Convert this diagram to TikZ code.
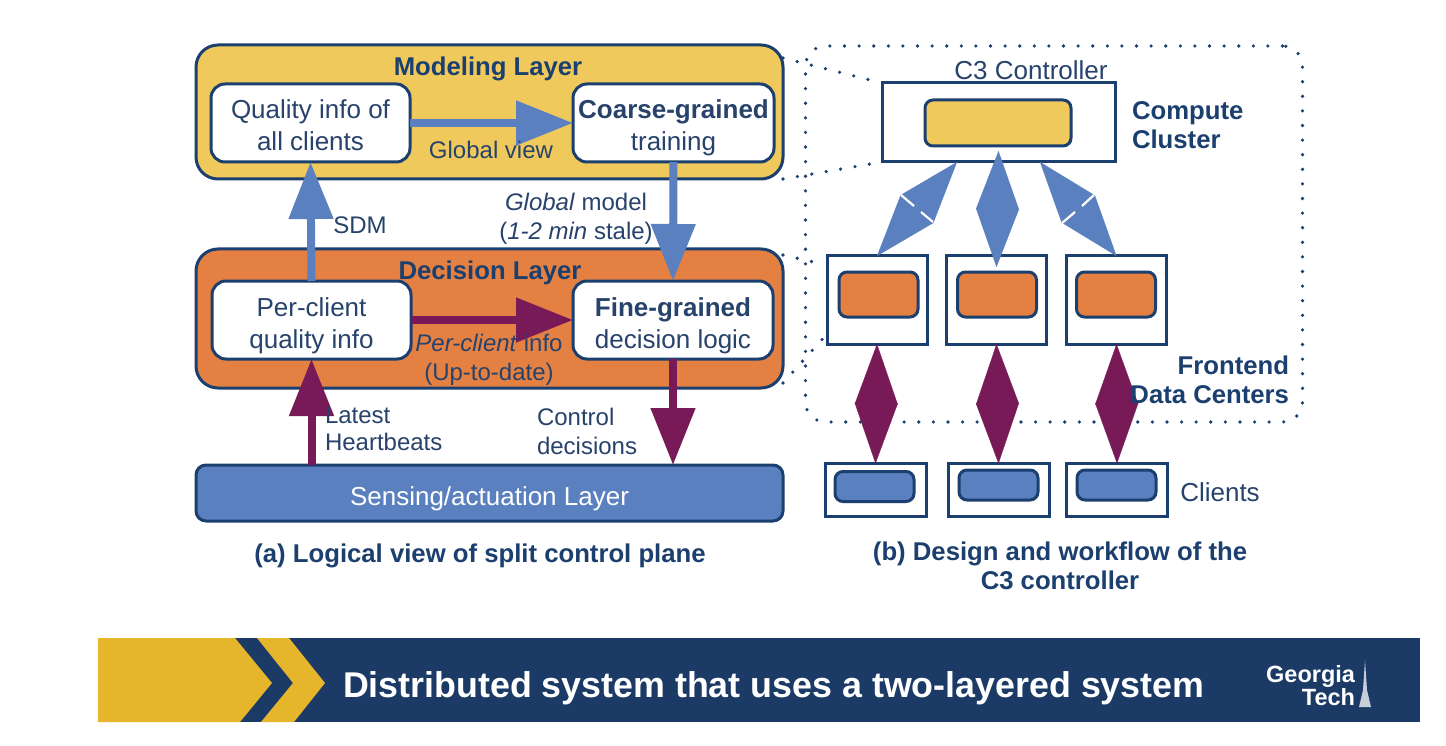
\documentclass[tikz,border=0pt]{standalone}
\usepackage{fontspec}
\setmainfont{Liberation Sans}
\usepackage{tikz}
\usetikzlibrary{arrows.meta}
\definecolor{navy}{HTML}{1B3F6E}
\definecolor{ink}{HTML}{27426B}
\definecolor{modelfill}{HTML}{F0C95C}
\definecolor{decidefill}{HTML}{E58043}
\definecolor{sensefill}{HTML}{5A80BF}
\definecolor{plum}{HTML}{781A58}
\definecolor{bannerblue}{HTML}{1B3A66}
\definecolor{bannergold}{HTML}{E5B62C}
\newcommand{\twolines}[2]{\rule{0pt}{30pt}#1\\#2\rule[-6pt]{0pt}{6pt}}

\begin{document}
\begin{tikzpicture}[x=1pt,y=-1pt,inner sep=0pt,outer sep=0pt,
        layer/.style={draw=navy,line width=3pt,rounded corners=22pt,minimum width=587pt},
        inbox/.style={draw=navy,line width=3pt,rounded corners=14pt,fill=white,minimum height=78pt,text=ink,align=center,font=\fontsize{26}{32}\selectfont},
        rack/.style={draw=navy,line width=3pt,fill=white},
        chip/.style={draw=navy,line width=3pt,rounded corners=8pt},
        lab/.style={text=ink,align=center,font=\fontsize{24}{29}\selectfont},
        head/.style={text=navy,align=center,font=\fontsize{25.7}{29.5}\selectfont\bfseries},
        flow/.style={line width=8pt,-{Triangle[length=57pt,width=43pt]}},
        both/.style={line width=0.2pt,{Triangle[length=#1,width=43pt]}-{Triangle[length=#1,width=43pt]}},
        dots/.style={draw=navy,line width=3.6pt,line cap=round,dash pattern=on 0pt off 14.6pt}]
        \useasboundingbox (0,0) rectangle (1446,746);
        \fill[white] (0,0) rectangle (1446,746);

        % left side layers
        \node[layer,fill=modelfill,minimum height=134pt] (modeling) at (489.5,112) {};
        \node[layer,fill=decidefill,minimum height=139pt] (decision) at (489.5,318.5) {};
        \node[layer,fill=sensefill,minimum height=56pt,rounded corners=10pt,text=white,font=\fontsize{26}{30}\selectfont] (sensing) at (489.5,493) {\rule{0pt}{30pt}Sensing/actuation Layer\rule[-6pt]{0pt}{6pt}};
        \node[inbox,minimum width=199pt] (quality) at (310.5,123) {\twolines{Quality info of}{all clients}};
        \node[inbox,minimum width=201pt] (coarse) at (673.5,123) {\twolines{\textbf{Coarse-grained}}{training}};
        \node[inbox,minimum width=199pt] (perclient) at (311.5,320) {\twolines{Per-client}{quality info}};
        \node[inbox,minimum width=200pt] (fine) at (673,320) {\twolines{\textbf{Fine-grained}}{decision logic}};
        \coordinate (hbfoot) at (311.5,465);
        \coordinate (ctlfoot) at (673,465);

        % right side boxes
        \node[dots,rounded corners=20pt,minimum width=497pt,minimum height=376pt] (cage) at (1054,234) {};
        \node[rack,minimum width=233pt,minimum height=79pt] (ctrl) at (998.5,122.5) {};
        \node[chip,fill=modelfill,minimum width=146pt,minimum height=46pt] (ctrlchip) at (998,123) {};
        \foreach \n/\x/\cx in {1/877/878.5,2/996.5/997,3/1116.5/1116}{
          \node[rack,minimum width=100pt,minimum height=88pt] (fe\n) at (\x,300) {};
          \node[chip,fill=decidefill,minimum width=79pt,minimum height=45pt] (fechip\n) at (\cx,294.5) {};
        }
        \foreach \n/\x/\cx/\cy in {1/875.5/874.5/486.5,2/998.5/998.5/485,3/1117/1116.5/485}{
          \node[rack,minimum width=101pt,minimum height=53pt] (cl\n) at (\x,490) {};
          \node[chip,fill=sensefill,minimum width=79pt,minimum height=30pt] (clchip\n) at (\cx,\cy) {};
        }

        % dotted zoom lines
        \draw[dots,shorten >=9pt] ([yshift=-13pt]modeling.north east) -- (ctrl.north west);
        \draw[dots,shorten >=9pt] (modeling.south east) -- (ctrl.south west);
        \draw[dots,shorten >=7pt] ([yshift=-6pt]decision.north east) -- ([yshift=-9pt]fe1.north west);
        \draw[dots,shorten >=6pt] ([yshift=5pt]decision.south east) -- ([yshift=10pt]fe1.south west);

        % arrows
        \draw[flow,sensefill] (quality) -- (coarse);
        \draw[flow,plum] (perclient) -- (fine);
        \draw[flow,sensefill] (perclient.north) -- (quality.south);
        \draw[flow,sensefill] (coarse.south) -- (fine.north);
        \draw[flow,plum] (hbfoot) -- (perclient.south);
        \draw[flow,plum] (fine.south) -- (ctlfoot);
        \draw[both=61.8pt,sensefill] ([xshift=-41.5pt]ctrl.south) -- (fe1.north);
        \draw[both=58.3pt,sensefill] ([yshift=11pt]ctrl.south) -- ([yshift=-11pt]fe2.north);
        \draw[both=60.7pt,sensefill] ([xshift=41.5pt]ctrl.south) -- (fe3.north);
        \draw[both=60.2pt,plum] (fe1.south) -- (cl1.north);
        \draw[both=60.2pt,plum] (fe2.south) -- (cl2.north);
        \draw[both=60.2pt,plum] (fe3.south) -- (cl3.north);
        \draw[white,line width=2.2pt] (901,195) -- (914,206) (921,212) -- (933,222);
        \draw[white,line width=2.2pt] (1094,195) -- (1082,206) (1075,212) -- (1062,223);

        % labels
        \node[head] (modeltitle) at (488,69) {Modeling Layer};
        \node[head] (decidetitle) at (490,273) {Decision Layer};
        \node[lab] (globalview) at (491,150) {Global view};
        \node[lab] (sdm) at (360,225) {SDM};
        \node[lab] (globalmodel) at (576,219) {\textit{Global} model\\(\textit{1-2 min} stale)};
        \node[lab] (perinfo) at (489,360) {\textit{Per-client} info\\(Up-to-date)};
        \node[lab,align=left,anchor=west,font=\fontsize{24}{27}\selectfont] (heartbeats) at (325,429) {Latest\\Heartbeats};
        \node[lab,align=left,anchor=west] (decisions) at (537,431) {Control\\decisions};
        \node[lab,font=\fontsize{26}{29}\selectfont] (ctrlname) at (1031,70) {C3 Controller};
        \node[head,align=left,anchor=west] (compute) at (1132,125) {Compute\\Cluster};
        \node[head,align=right,anchor=east] (frontend) at (1289,380) {Frontend\\Data Centers};
        \node[lab,font=\fontsize{26}{29}\selectfont] (clients) at (1220,492) {Clients};
        \node[head] (capa) at (480,556) {(a) Logical view of split control plane};
        \node[head] (capb) at (1060,566) {(b) Design and workflow of the\\C3 controller};

        % banner
        \fill[bannerblue] (98,638) rectangle (1420,722);
        \fill[bannergold] (98,638) -- (235,638) -- (272,683) -- (240,722) -- (98,722) -- cycle;
        \fill[bannergold] (257,638) -- (293,683) -- (261,722) -- (294,722) -- (325,683) -- (289,638) -- cycle;
        \node[text=white,anchor=west,font=\fontsize{35.8}{40}\selectfont\bfseries] (bannertext) at (343,688) {Distributed system that uses a two-layered system};
        \node[text=white,align=right,anchor=east,font=\fontsize{23.5}{17}\selectfont\bfseries] (logo) at (1355,686) {Georgia\\Tech};
        \fill[white!75!bannerblue] (1365,660) -- (1367,690) -- (1371,707) -- (1359,707) -- (1363,690) -- cycle;
      \end{tikzpicture}
\end{document}
